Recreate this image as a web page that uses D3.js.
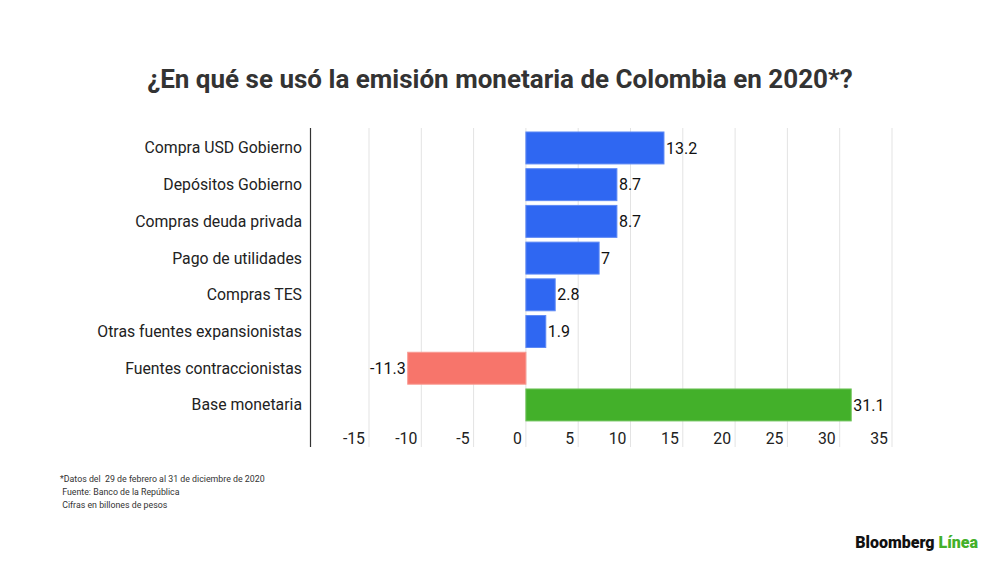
<!DOCTYPE html>
<html>
<head>
<meta charset="utf-8">
<script src="https://cdnjs.cloudflare.com/ajax/libs/d3/7.8.5/d3.min.js"></script>
<style>
  body { margin: 0; background: #fff; }
  text { font-family: Roboto, "Noto Sans", sans-serif; }
</style>
</head>
<body>
<div id="chart"></div>
<script>
// Chart data
var categories = [
    "Compra USD Gobierno",
    "Depósitos Gobierno",
    "Compras deuda privada",
    "Pago de utilidades",
    "Compras TES",
    "Otras fuentes expansionistas",
    "Fuentes contraccionistas",
    "Base monetaria"
];
var values = [13.2, 8.7, 8.7, 7, 2.8, 1.9, -11.3, 31.1];
var valueLabels = ["13.2", "8.7", "8.7", "7", "2.8", "1.9", "-11.3", "31.1"];
var kinds = ["exp", "exp", "exp", "exp", "exp", "exp", "con", "base"];
var tickValues = [-15, -10, -5, 0, 5, 10, 15, 20, 25, 30, 35];
var notes = [
    "*Datos del  29 de febrero al 31 de diciembre de 2020",
    " Fuente: Banco de la República",
    " Cifras en billones de pesos"
];

var width = 1000;
var height = 562;

var colors = { exp: "#2f67f2", con: "#f7756b", base: "#43b02a" };
var strokes = { exp: "#5d89f5", con: "#f99a92", base: "#6cc257" };

var svg = d3.select("#chart").append("svg")
    .attr("width", width)
    .attr("height", height);

// Title
svg.append("text")
    .attr("x", 500)
    .attr("y", 88)
    .attr("text-anchor", "middle")
    .style("font-size", "26px")
    .style("font-weight", "bold")
    .style("fill", "#333")
    .text("¿En qué se usó la emisión monetaria de Colombia en 2020*?");

// Scales
var x = d3.scaleLinear()
    .domain([-15, 35])
    .range([369, 892]);

var y = d3.scaleBand()
    .domain(categories)
    .range([129.6, 423.3])
    .paddingInner(0.13)
    .paddingOuter(0.065);

// Gridlines
svg.selectAll(".grid")
    .data(tickValues)
    .enter().append("line")
    .attr("class", "grid")
    .attr("x1", function(d) { return x(d); })
    .attr("x2", function(d) { return x(d); })
    .attr("y1", 128)
    .attr("y2", 447)
    .style("stroke", "#e3e3e3")
    .style("stroke-width", 1);

// Left axis line
svg.append("line")
    .attr("x1", 310.5).attr("x2", 310.5)
    .attr("y1", 128).attr("y2", 447)
    .style("stroke", "#333")
    .style("stroke-width", 1.2);

// Bars
svg.selectAll(".bar")
    .data(values)
    .enter().append("rect")
    .attr("class", "bar")
    .attr("x", function(d) { return x(Math.min(0, d)); })
    .attr("y", function(d, i) { return y(categories[i]); })
    .attr("width", function(d) { return Math.abs(x(d) - x(0)); })
    .attr("height", y.bandwidth())
    .style("fill", function(d, i) { return colors[kinds[i]]; })
    .style("stroke", function(d, i) { return strokes[kinds[i]]; })
    .style("stroke-width", 1);

// Value labels
svg.selectAll(".val")
    .data(values)
    .enter().append("text")
    .attr("class", "val")
    .attr("x", function(d) { return d < 0 ? x(d) - 2 : x(d) + 2; })
    .attr("y", function(d, i) { return y(categories[i]) + y.bandwidth() / 2; })
    .attr("dy", "0.35em")
    .attr("text-anchor", function(d) { return d < 0 ? "end" : "start"; })
    .style("font-size", "16px")
    .style("fill", "#111")
    .text(function(d, i) { return valueLabels[i]; });

// Category labels
svg.selectAll(".cat")
    .data(categories)
    .enter().append("text")
    .attr("class", "cat")
    .attr("x", 302)
    .attr("y", function(d) { return y(d) + y.bandwidth() / 2; })
    .attr("dy", "0.35em")
    .attr("text-anchor", "end")
    .style("font-size", "15.8px")
    .style("fill", "#222")
    .text(function(d) { return d; });

// Tick labels
svg.selectAll(".tick-label")
    .data(tickValues)
    .enter().append("text")
    .attr("class", "tick-label")
    .attr("x", function(d) { return x(d) - 4; })
    .attr("y", 444)
    .attr("text-anchor", "end")
    .style("font-size", "15.8px")
    .style("fill", "#222")
    .text(function(d) { return d; });

// Footnotes
svg.selectAll(".note")
    .data(notes)
    .enter().append("text")
    .attr("class", "note")
    .attr("x", 60)
    .attr("y", function(d, i) { return 482 + i * 13; })
    .attr("xml:space", "preserve")
    .style("white-space", "pre")
    .style("font-size", "8.8px")
    .style("fill", "#333")
    .text(function(d) { return d; });

// Logo
var logo = svg.append("text")
    .attr("x", 978)
    .attr("y", 548)
    .attr("text-anchor", "end")
    .style("font-size", "16px")
    .style("font-weight", "900");
logo.append("tspan").style("fill", "#111").text("Bloomberg ");
logo.append("tspan").style("fill", "#43b02a").text("Línea");
</script>
</body>
</html>
